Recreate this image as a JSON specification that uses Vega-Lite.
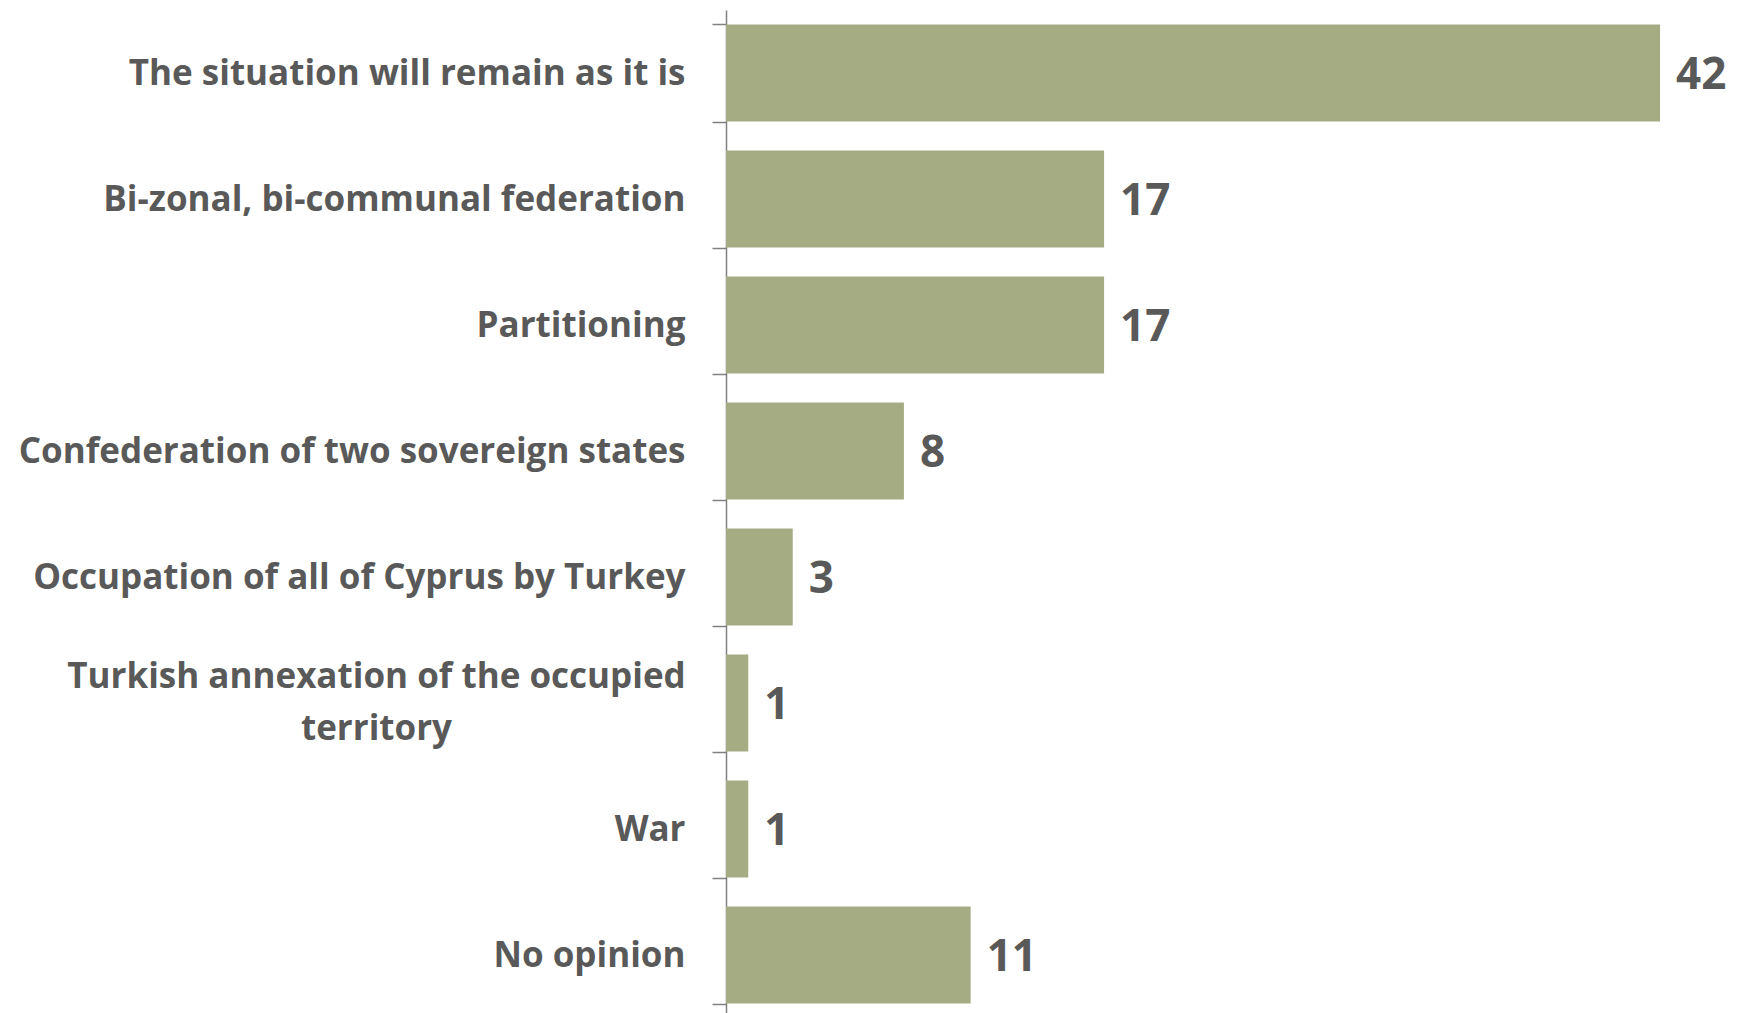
{
  "$schema": "https://vega.github.io/schema/vega-lite/v6.json",
  "autosize": {"type": "none"},
  "width": 1017,
  "height": 1008,
  "padding": {"left": 726, "top": 10, "right": 0, "bottom": 0},
  "background": "white",
  "view": {"stroke": null},
  "data": {"values": [
    {"answer": "The situation will remain as it is", "value": 42},
    {"answer": "Bi-zonal, bi-communal federation", "value": 17},
    {"answer": "Partitioning", "value": 17},
    {"answer": "Confederation of two sovereign states", "value": 8},
    {"answer": "Occupation of all of Cyprus by Turkey", "value": 3},
    {"answer": "Turkish annexation of the occupied territory", "value": 1},
    {"answer": "War", "value": 1},
    {"answer": "No opinion", "value": 11}
  ]},
  "encoding": {
    "y": {
      "field": "answer", "type": "nominal", "sort": null,
      "scale": {"paddingInner": 0.23, "paddingOuter": 0.115},
      "axis": {
        "title": null,
        "tickBand": "extent",
        "tickSize": 14,
        "tickColor": "#808080",
        "tickWidth": 1.5,
        "domainColor": "#808080",
        "domainWidth": 1.5,
        "labelPadding": {"condition": {"test": "datum.value == 'Turkish annexation of the occupied territory'", "value": 336}, "value": 27},
        "labelAlign": {"condition": {"test": "datum.value == 'Turkish annexation of the occupied territory'", "value": "center"}, "value": "right"},
        "labelFont": "Open Sans",
        "labelFontWeight": "bold",
        "labelFontSize": 35,
        "labelColor": "#595959",
        "labelLimit": 900,
        "labelLineHeight": 52,
        "labelOffset": {"condition": {"test": "datum.value == 'Turkish annexation of the occupied territory'", "value": -27}, "value": 0},
        "labelExpr": "datum.value == 'Turkish annexation of the occupied territory' ? ['Turkish annexation of the occupied', 'territory'] : datum.value"
      }
    },
    "x": {
      "field": "value", "type": "quantitative",
      "scale": {"domain": [0, 45.73], "nice": false},
      "axis": null
    }
  },
  "layer": [
    {"mark": {"type": "bar", "color": "#A5AB82"}},
    {"mark": {"type": "text", "align": "left", "baseline": "middle", "dx": 16, "dy": 3, "font": "Open Sans", "fontWeight": "bold", "fontSize": 44, "color": "#595959"},
     "encoding": {"text": {"field": "value", "type": "quantitative"}}}
  ]
}
